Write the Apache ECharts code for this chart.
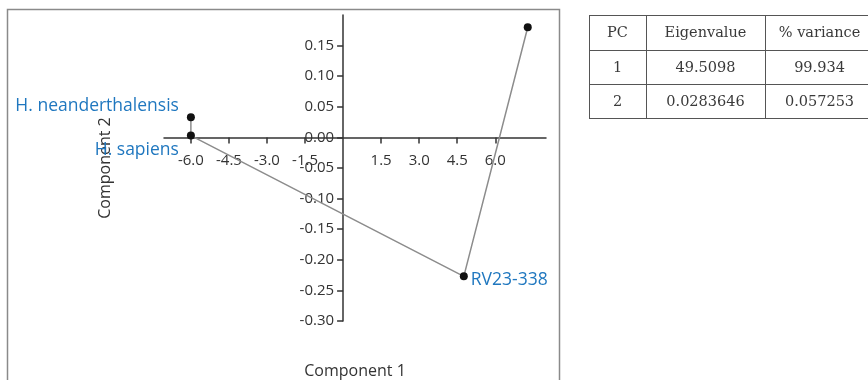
<!DOCTYPE html>
<html>
<head>
<meta charset="utf-8">
<script src="https://cdn.jsdelivr.net/npm/echarts@6/dist/echarts.min.js"></script>
<style>html,body{margin:0;padding:0;background:#fff}#c{width:868px;height:380px}</style>
</head>
<body>
<div id="c"></div>
<script>
// ---- data ----
const pointNames = ['H. neanderthalensis', 'H. sapiens', 'RV23-338', ''];
const comp1 = [-6.0, -6.0, 4.76, 7.28];
const comp2 = [0.033, 0.003, -0.227, 0.180];
const xTickValues = [-6.0, -4.5, -3.0, -1.5, 1.5, 3.0, 4.5, 6.0];
const yTickValues = [0.15, 0.10, 0.05, 0.00, -0.05, -0.10, -0.15, -0.20, -0.25, -0.30];
const tableHeader = ['PC', 'Eigenvalue', '% variance'];
const tablePC = ['1', '2'];
const tableEigen = ['49.5098', '0.0283646'];
const tableVariance = ['99.934', '0.057253'];

// ---- layout / styling ----
const W = 868, H = 380;
const grid = {left: 164, right: 322, top: 15, bottom: 59};
const xMin = -7.06, xMax = 8.0, yMin = -0.30, yMax = 0.20;
const gw = W - grid.left - grid.right, gh = H - grid.top - grid.bottom;
// shift the axes so they cross at the origin (labels and names move with them)
const xAxisOffset = -(gh * (0 - yMin) / (yMax - yMin));
const yAxisOffset = -(gw * (0 - xMin) / (xMax - xMin));

const labelStyle = [
  {position: 'left', offset: [-3, -11]},
  {position: 'left', offset: [-3, 14]},
  {position: 'right', offset: [-2, 4]},
  {show: false}
];
const font = '"Open Sans", "Noto Sans", sans-serif';
const blue = '#1f77bf';

const data = comp1.map((x, i) => {
  const ls = labelStyle[i];
  return {
    value: [x, comp2[i]],
    name: pointNames[i],
    label: Object.assign({show: true, formatter: '{b}', color: blue, fontSize: 17.5, fontFamily: font}, ls)
  };
});

// table graphics
const colX = [589, 646, 765, 880];
const rowY = [15, 50, 84, 118];
const tableRows = [tableHeader, [tablePC[0], tableEigen[0], tableVariance[0]], [tablePC[1], tableEigen[1], tableVariance[1]]];
const graphics = [{
  type: 'rect', shape: {x: 7.5, y: 9.5, width: 552, height: 400},
  style: {fill: 'none', stroke: '#8a8a8a', lineWidth: 1.5}, silent: true
}];
rowY.forEach(y => graphics.push({type: 'line', shape: {x1: colX[0], y1: y + 0.5, x2: colX[3], y2: y + 0.5}, style: {stroke: '#555', lineWidth: 1}}));
colX.forEach(x => graphics.push({type: 'line', shape: {x1: x + 0.5, y1: rowY[0], x2: x + 0.5, y2: rowY[3]}, style: {stroke: '#555', lineWidth: 1}}));
tableRows.forEach((row, r) => row.forEach((t, c) => {
  graphics.push({
    type: 'text',
    x: (colX[c] + colX[c + 1]) / 2 + (c === 2 ? -3 : 0),
    y: (rowY[r] + rowY[r + 1]) / 2 + 1,
    style: {text: t, fill: '#3a3a3a', font: '14.5px "DejaVu Serif", "Liberation Serif", serif', textAlign: 'center', textVerticalAlign: 'middle'}
  });
}));

const chart = echarts.init(document.getElementById('c'), null, {renderer: 'canvas'});
chart.setOption({
  animation: false,
  backgroundColor: '#fff',
  grid: Object.assign({containLabel: false, outerBoundsMode: 'none'}, grid),
  xAxis: {
    type: 'value', min: xMin, max: xMax, position: 'bottom', offset: xAxisOffset,
    name: 'Component 1', nameLocation: 'middle', nameGap: 226,
    nameTextStyle: {color: '#333', fontSize: 16, fontFamily: font},
    splitLine: {show: false},
    axisLine: {show: true, onZero: false, lineStyle: {color: '#333', width: 1.5}},
    axisTick: {show: true, length: 6, customValues: xTickValues, lineStyle: {color: '#333', width: 1.5}},
    axisLabel: {customValues: xTickValues, margin: 16, color: '#333', fontSize: 15, fontFamily: font,
      formatter: v => v.toFixed(1)}
  },
  yAxis: {
    type: 'value', min: yMin, max: yMax, position: 'left', offset: yAxisOffset,
    name: 'Component 2', nameLocation: 'middle', nameGap: 230, nameRotate: 90,
    nameTextStyle: {color: '#333', fontSize: 16, fontFamily: font},
    splitLine: {show: false},
    axisLine: {show: true, onZero: false, lineStyle: {color: '#333', width: 1.5}},
    axisTick: {show: true, length: 6, customValues: yTickValues, lineStyle: {color: '#333', width: 1.5}},
    axisLabel: {customValues: yTickValues, margin: 9, color: '#333', fontSize: 15, fontFamily: font,
      formatter: v => v.toFixed(2)}
  },
  series: [{
    type: 'line',
    data: data,
    symbol: 'circle', symbolSize: 8,
    itemStyle: {color: '#111'},
    lineStyle: {color: '#8c8c8c', width: 1.5},
    z: 3
  }],
  graphic: graphics
});
</script>
</body>
</html>
